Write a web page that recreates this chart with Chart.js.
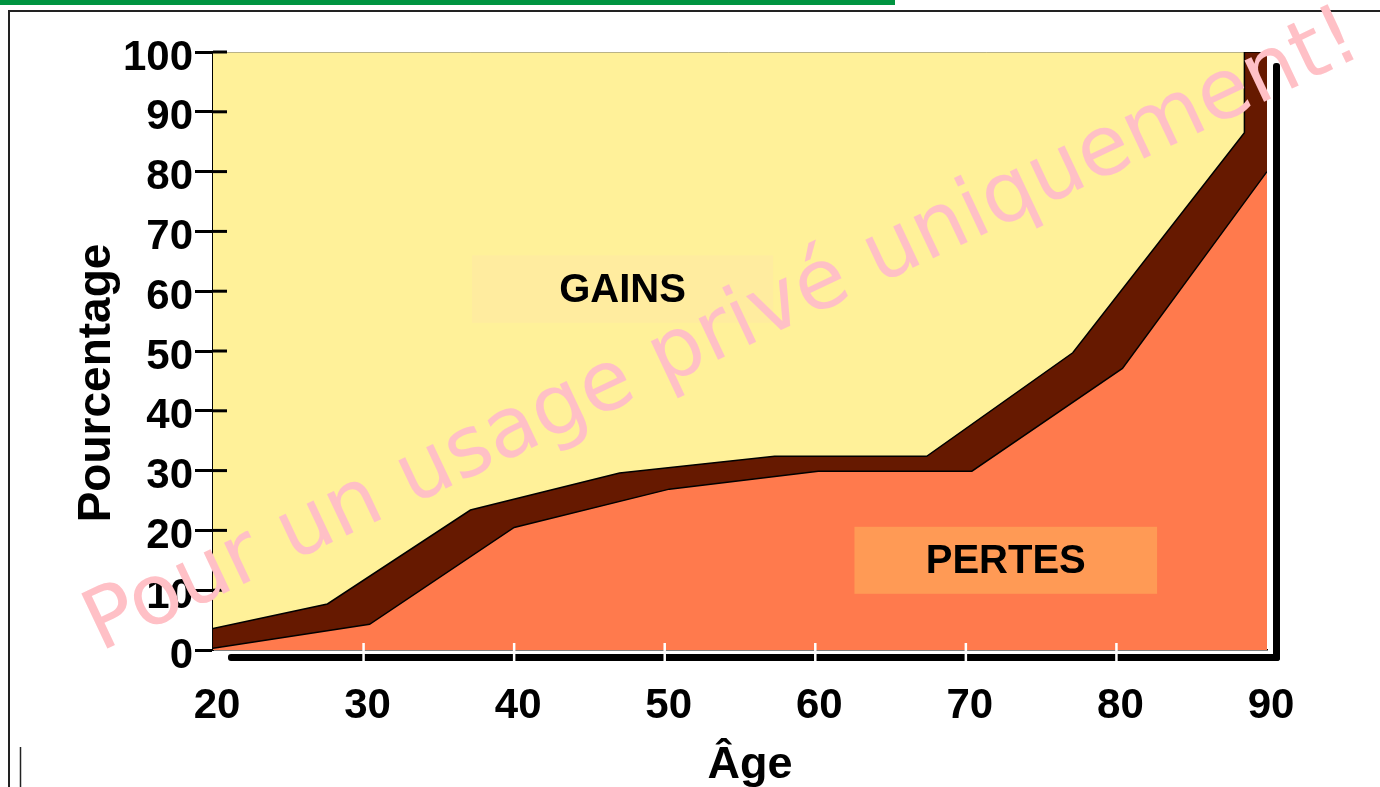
<!DOCTYPE html>
<html>
<head>
<meta charset="utf-8">
<script src="https://cdn.jsdelivr.net/npm/chart.js@4"></script>
<style>
  html, body { margin: 0; padding: 0; background: #fff; overflow: hidden; }
  canvas { display: block; }
</style>
</head>
<body>
<canvas id="chart" width="1380" height="787"></canvas>
<script>
// values
const pertesAge = [20, 30.4, 40, 50.3, 60.2, 70.4, 80.4, 90];
const pertesPct = [0.3, 4.3, 20.5, 26.9, 29.9, 29.9, 47.1, 80];
const limiteAge = [20, 27.6, 37.1, 47.0, 57.3, 67.4, 77.1, 88.5, 88.5, 90];
const limitePct = [3.6, 7.7, 23.4, 29.6, 32.4, 32.4, 49.7, 86.5, 100, 100];
const gainsAge = [20, 88.5];
const gainsPct = [100, 100];
const xTicks = [20, 30, 40, 50, 60, 70, 80, 90];
const yTicks = [0, 10, 20, 30, 40, 50, 60, 70, 80, 90, 100];

const FONT = '"Liberation Sans", Arial, Helvetica, sans-serif';
const toPoints = (xs, ys) => xs.map((x, i) => ({ x, y: ys[i] }));

const decor = {
  id: "decor",
  beforeDraw(chart) {
    const { ctx } = chart;
    ctx.save();
    ctx.fillStyle = "#fff";
    ctx.fillRect(0, 0, chart.width, chart.height);
    ctx.fillStyle = "#009440";
    ctx.fillRect(0, 0, 895, 5);
    ctx.strokeStyle = "#222";
    ctx.lineWidth = 2;
    ctx.beginPath();
    ctx.moveTo(9, chart.height);
    ctx.lineTo(9, 11);
    ctx.lineTo(chart.width, 11);
    ctx.stroke();
    ctx.lineWidth = 1.5;
    ctx.beginPath();
    ctx.moveTo(20.5, 747);
    ctx.lineTo(20.5, chart.height);
    ctx.stroke();
    ctx.restore();
  },
  afterDatasetsDraw(chart, args, opts) {
    const { ctx, chartArea: a, scales: { x, y } } = chart;
    ctx.save();
    // shadow frame
    ctx.fillStyle = "#000";
    ctx.beginPath();
    ctx.roundRect(a.left + 15, a.bottom + 4, a.right - a.left - 2, 7, 3);
    ctx.fill();
    ctx.beginPath();
    ctx.roundRect(a.right + 6, a.top + 11, 7, a.bottom - a.top, 3);
    ctx.fill();
    // white ticks across the bottom bar
    ctx.strokeStyle = "#fff";
    ctx.lineWidth = 2.5;
    xTicks.slice(1, -1).forEach((v) => {
      const px = x.getPixelForValue(v);
      ctx.beginPath();
      ctx.moveTo(px, a.bottom - 7);
      ctx.lineTo(px, a.bottom + 12);
      ctx.stroke();
    });
    // y ticks crossing into the plot
    ctx.strokeStyle = "#000";
    ctx.lineWidth = 3;
    yTicks.slice(1).forEach((v) => {
      const py = y.getPixelForValue(v);
      ctx.beginPath();
      ctx.moveTo(a.left, py);
      ctx.lineTo(a.left + 14, py);
      ctx.stroke();
    });
    // zone labels
    opts.zones.forEach((z) => {
      const x0 = x.getPixelForValue(z.x0), x1 = x.getPixelForValue(z.x1);
      const y0 = y.getPixelForValue(z.y1), y1 = y.getPixelForValue(z.y0);
      ctx.fillStyle = z.color;
      ctx.fillRect(x0, y0, x1 - x0, y1 - y0);
      ctx.fillStyle = "#000";
      ctx.font = `bold 40px ${FONT}`;
      ctx.textAlign = "center";
      ctx.textBaseline = "middle";
      ctx.fillText(z.text, (x0 + x1) / 2, (y0 + y1) / 2 + 2);
    });
    ctx.restore();
  },
  afterDraw(chart) {
    const { ctx } = chart;
    ctx.save();
    ctx.fillStyle = "#000";
    ctx.textAlign = "center";
    ctx.textBaseline = "alphabetic";
    // x axis title
    ctx.font = `bold 45px ${FONT}`;
    ctx.fillText("Âge", 750, 778);
    // y axis title
    ctx.translate(110, 383);
    ctx.rotate(-Math.PI / 2);
    ctx.font = `bold 46px ${FONT}`;
    ctx.fillText("Pourcentage", 0, 0);
    ctx.restore();
    // watermark
    ctx.save();
    ctx.translate(100, 652);
    ctx.rotate((-25.3 * Math.PI) / 180);
    ctx.fillStyle = "#FFC0C6";
    ctx.font = '83.5px "DejaVu Sans", sans-serif';
    ctx.textAlign = "left";
    ctx.textBaseline = "alphabetic";
    ctx.fillText("Pour un usage privé uniquement!", 0, 0);
    ctx.restore();
  },
};

document.addEventListener("DOMContentLoaded", () => {
  new Chart(document.getElementById("chart"), {
    type: "line",
    data: {
      datasets: [
        {
          label: "PERTES",
          data: toPoints(pertesAge, pertesPct),
          backgroundColor: "#FF7A4D",
          borderColor: "#000",
          borderWidth: 1.5,
          fill: "origin",
        },
        {
          label: "Limite",
          data: toPoints(limiteAge, limitePct),
          backgroundColor: "#661900",
          borderColor: "#000",
          borderWidth: 1.5,
          fill: "origin",
        },
        {
          label: "GAINS",
          data: toPoints(gainsAge, gainsPct),
          backgroundColor: "#FFF199",
          borderColor: "#777",
          borderWidth: 1,
          fill: "origin",
        },
      ],
    },
    options: {
      responsive: false,
      animation: false,
      devicePixelRatio: 1,
      layout: { padding: { top: 52, right: 113, left: 0, bottom: 0 } },
      elements: { point: { radius: 0 }, line: { tension: 0 } },
      scales: {
        x: {
          type: "linear",
          min: 20,
          max: 90,
          afterFit: (s) => { s.height = 137; },
          ticks: { stepSize: 10, padding: 31, labelOffset: 4, color: "#000", font: { family: FONT, size: 42, weight: "bold" } },
          grid: { display: false, drawTicks: false },
          border: { display: true, color: "#000", width: 1.5 },
        },
        y: {
          min: 0,
          max: 100,
          afterFit: (s) => { s.width = 213; },
          ticks: { stepSize: 10, padding: 2, labelOffset: 6, color: "#000", font: { family: FONT, size: 42, weight: "bold" } },
          grid: { drawOnChartArea: false, tickLength: 18, tickWidth: 3, tickColor: "#000" },
          border: { display: true, color: "#000", width: 2 },
        },
      },
      plugins: {
        legend: { display: false },
        tooltip: { enabled: false },
        decor: {
          zones: [
            { text: "GAINS", x0: 37.2, x1: 57.2, y0: 54.7, y1: 66, color: "#FFEC9F" },
            { text: "PERTES", x0: 62.6, x1: 82.7, y0: 9.4, y1: 20.6, color: "#FF9A55" },
          ],
        },
      },
    },
    plugins: [decor],
  });
});
</script>
</body>
</html>
